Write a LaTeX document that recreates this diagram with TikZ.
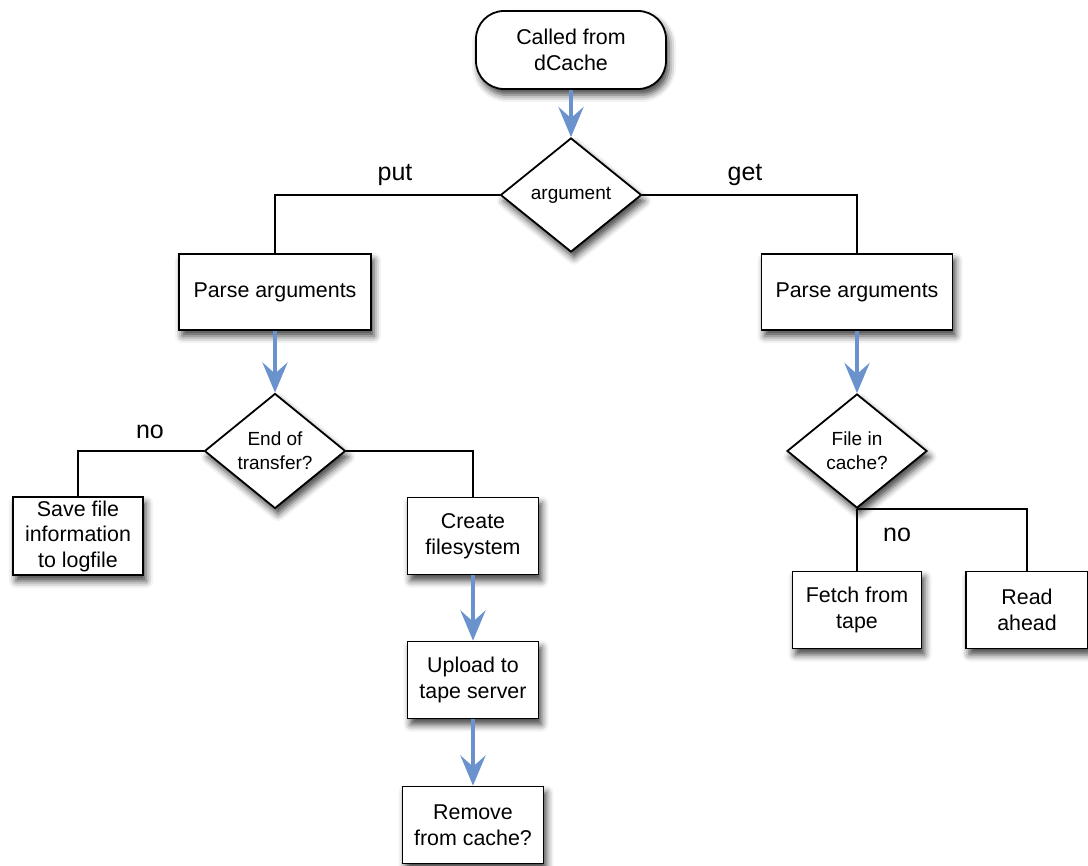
\documentclass[tikz,border=0pt]{standalone}
\usepackage{fontspec}
\setmainfont{Liberation Sans}
\usetikzlibrary{shapes.geometric,arrows.meta,shadows.blur}
\definecolor{flowblue}{HTML}{6A93CE}
\begin{document}
\begin{tikzpicture}[x=1pt,y=-1pt,
  shade/.style={blur shadow={shadow xshift=3pt,shadow yshift=-6pt,shadow blur radius=7pt,shadow opacity=75}},
  boxtext/.style={font=\fontsize{21.4}{25.5}\selectfont,align=center},
  stepbox/.style={draw,line width=1.8pt,fill=white,shade,inner sep=0pt,boxtext},
  startbox/.style={stepbox,rounded corners=28pt},
  decision/.style={draw,line width=1.8pt,fill=white,shade,diamond,aspect=1.24,inner sep=0pt,
    font=\fontsize{19}{24}\selectfont,align=center},
  link/.style={line width=1.8pt,black},
  flow/.style={line width=4.5pt,flowblue,-{Stealth[length=30pt,width=25pt,inset=11pt]}},
  tag/.style={font=\fontsize{25}{28}\selectfont}
]
\useasboundingbox (0,0) rectangle (1088,866);

% top of the chart
\node[startbox,minimum width=190pt,minimum height=78pt] (start) at (571,50) {Called from\\dCache};
\node[decision,minimum width=141pt,minimum height=114pt] (arg) at (571,195) {argument};

% put branch
\node[stepbox,minimum width=192pt,minimum height=76pt] (lparse) at (275,292) {\raisebox{-2pt}{Parse arguments}};
\node[decision,minimum width=141pt,minimum height=115pt] (eot) at (275,451) {End of\\transfer?};
\node[stepbox,minimum width=130pt,minimum height=78pt] (save) at (78,536) {Save file\\information\\to logfile};
\node[stepbox,minimum width=131pt,minimum height=77pt] (create) at (473,536) {Create\\filesystem};
\node[stepbox,minimum width=131pt,minimum height=77pt] (upload) at (473,680) {Upload to\\tape server};
\node[stepbox,minimum width=141pt,minimum height=77pt] (remove) at (473,825) {Remove\\from cache?};

% get branch
\node[stepbox,minimum width=191pt,minimum height=76pt] (rparse) at (857,292) {\raisebox{-2pt}{Parse arguments}};
\node[decision,minimum width=140pt,minimum height=114pt] (fic) at (857,451) {File in\\cache?};
\node[stepbox,minimum width=129pt,minimum height=77pt] (fetch) at (857,610) {Fetch from\\tape};
\node[stepbox,minimum width=122pt,minimum height=77pt] (read) at (1027,610) {Read\\ahead};

% plain connectors
\draw[link] (arg.west) -| (lparse.north);
\draw[link] (arg.east) -| (rparse.north);
\draw[link] (eot.west) -| (save.north);
\draw[link] (eot.east) -| (create.north);
\draw[link] (fic.south) -- (fetch.north);
\draw[link] (fic.south) -| (read.north);

% blue flow arrows
\draw[flow] (start.south) -- (arg.north);
\draw[flow] (lparse.south) -- (eot.north);
\draw[flow] (rparse.south) -- (fic.north);
\draw[flow] (create.south) -- (upload.north);
\draw[flow] (upload.south) -- (remove.north);

% branch labels
\node[tag] (lput) at (395,175) {put};
\node[tag] (lget) at (745,175) {get};
\node[tag] (lno1) at (150,432) {no};
\node[tag] (lno2) at (897,535) {no};
\end{tikzpicture}
\end{document}
